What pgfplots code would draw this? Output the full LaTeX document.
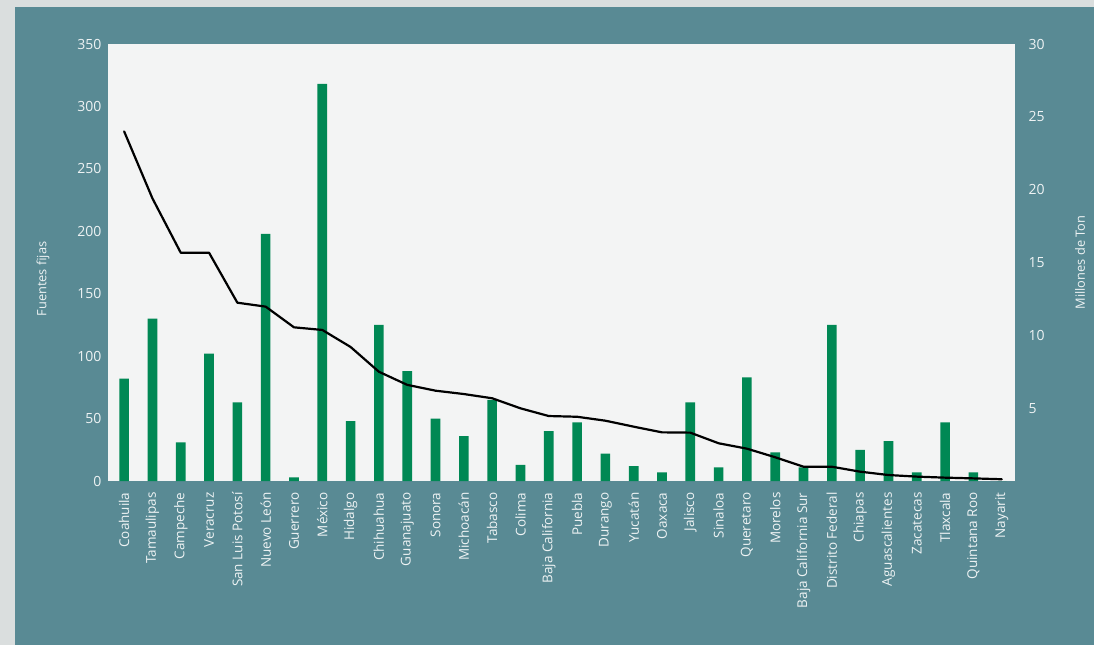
\documentclass[border=0pt]{standalone}
\usepackage{pgfplots}
\pgfplotsset{compat=1.18}
\usepackage{pgfplotstable}
\usepackage{fontspec}
\setmainfont{Open Sans}

\definecolor{panel}{RGB}{89,138,148}
\definecolor{outer}{RGB}{218,222,222}
\definecolor{plotbg}{RGB}{243,244,244}
\definecolor{barg}{RGB}{0,136,84}
\definecolor{lbl}{RGB}{238,243,244}

% fuentes fijas (left axis) and emisiones en millones de ton (right axis)
\pgfplotstableread{
idx fuentes emis
0  82  24.0
1  130 19.4
2  31  15.67
3  102 15.67
4  63  12.24
5  198 11.97
6  3   10.55
7  318 10.37
8  48  9.2
9  125 7.5
10 88  6.6
11 50  6.2
12 36  5.97
13 65  5.68
14 13  4.99
15 40  4.46
16 47  4.41
17 22  4.14
18 12  3.73
19 7   3.34
20 63  3.32
21 11  2.59
22 83  2.22
23 23  1.63
24 11  0.98
25 125 0.98
26 25  0.64
27 32  0.41
28 7   0.30
29 47  0.23
30 7   0.18
31 0   0.12
}\datos

\begin{document}
\begin{tikzpicture}[x=1pt,y=1pt]
% backdrop: textured border and teal panel
\useasboundingbox (-108,-164) rectangle (986,481);
\fill[outer] (-108,-164) rectangle (986,481);
\fill[panel] (-93,-164) rectangle (986,474);

\pgfplotsset{
  base/.style={
    at={(0,0)}, anchor=south west,
    width=907pt, height=437pt, scale only axis,
    xmin=-0.57, xmax=31.47,
    axis line style={draw=none},
    major tick length=0pt,
    /pgf/number format/assume math mode=true,
    tick label style={font=\fontsize{14}{16}\selectfont, color=lbl},
  }
}

\begin{axis}[base,
  axis background/.style={fill=plotbg},
  ymin=0, ymax=350, ytick={0,50,...,350},
  yticklabel style={xshift=-3pt},
  xtick=data,
  xticklabels={Coahuila,Tamaulipas,Campeche,Veracruz,San Luis Potosí,Nuevo León,Guerrero,México,Hidalgo,Chihuahua,Guanajuato,Sonora,Michoacán,Tabasco,Colima,Baja California,Puebla,Durango,Yucatán,Oaxaca,Jalisco,Sinaloa,Queretaro,Morelos,Baja California Sur,Distrito Federal,Chiapas,Aguascalientes,Zacatecas,Tlaxcala,Quintana Roo,Nayarit},
  xticklabel style={rotate=90, anchor=east, xshift=-8pt, font=\fontsize{13.5}{15}\selectfont},
  clip=false,
]
\addplot[ybar, bar width=0.34, fill=barg, draw=none] table[x=idx, y=fuentes] {\datos};
\node[rotate=90, color=lbl, font=\fontsize{12.8}{14}\selectfont] at (axis description cs:-0.0717,0.462) {Fuentes fijas};
\end{axis}

\begin{axis}[base,
  axis y line*=right, axis x line=none,
  ymin=0, ymax=30, ytick={5,10,...,30},
  yticklabel style={xshift=10pt},
  clip=false,
]
\addplot[black, line width=2.2pt, line join=round, line cap=round] table[x=idx, y=emis] {\datos};
\node[rotate=90, color=lbl, font=\fontsize{12.8}{14}\selectfont] at (axis description cs:1.0717,0.5) {Millones de Ton};
\end{axis}
\end{tikzpicture}
\end{document}
